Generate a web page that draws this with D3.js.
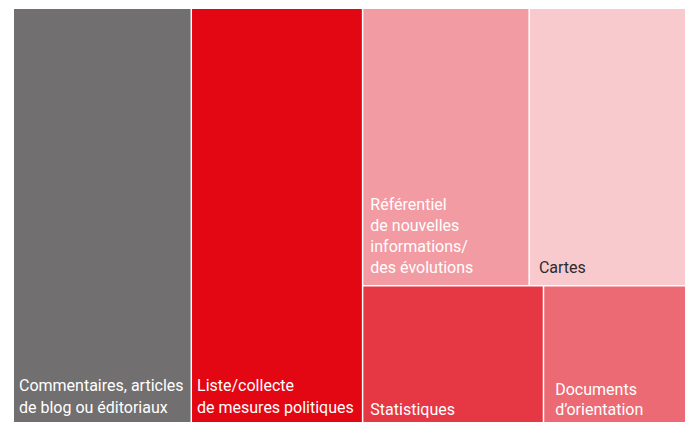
<!DOCTYPE html>
<html>
<head>
<meta charset="utf-8">
<script src="https://cdn.jsdelivr.net/npm/d3@7"></script>
<style>
  body { margin: 0; background: #fff; }
  svg { display: block; }
  text { font-family: Roboto, "Liberation Sans", sans-serif; font-size: 16px; }
</style>
</head>
<body>
<svg id="chart" width="690" height="423"></svg>
<script>
// shares (%)
const columns = ["Commentaires, articles de blog ou éditoriaux", "Liste/collecte de mesures politiques"];
const columnValues = [26.5, 25.5];
const topRow = ["Référentiel de nouvelles informations/ des évolutions", "Cartes"];
const topRowValues = [16.6, 15.6];
const bottomRow = ["Statistiques", "Documents d’orientation"];
const bottomRowValues = [8.9, 7.0];

// line breaks as in the original labels
const labelLines = {
  "Commentaires, articles de blog ou éditoriaux": ["Commentaires, articles", "de blog ou éditoriaux"],
  "Liste/collecte de mesures politiques": ["Liste/collecte", "de mesures politiques"],
  "Référentiel de nouvelles informations/ des évolutions": ["Référentiel", "de nouvelles", "informations/", "des évolutions"],
  "Cartes": ["Cartes"],
  "Statistiques": ["Statistiques"],
  "Documents d’orientation": ["Documents", "d’orientation"]
};

const colors = {
  "Commentaires, articles de blog ou éditoriaux": "#716f6f",
  "Liste/collecte de mesures politiques": "#e30613",
  "Référentiel de nouvelles informations/ des évolutions": "#f29ba3",
  "Cartes": "#f9cacd",
  "Statistiques": "#e63744",
  "Documents d’orientation": "#ec6a73"
};
const textColor = { "Cartes": "#2b2b2b" };
// label inset [dx, distance of last baseline above cell bottom, line height]
const labelPos = {
  "Commentaires, articles de blog ou éditoriaux": [5, 9, 22],
  "Liste/collecte de mesures politiques": [5, 9, 22],
  "Référentiel de nouvelles informations/ des évolutions": [7, 12, 21],
  "Cartes": [9, 12, 21],
  "Statistiques": [7, 7, 21],
  "Documents d’orientation": [11, 7, 20]
};

const toLeaves = (names, vals) => names.map((n, i) => ({ name: n, value: vals[i] }));
const data = {
  name: "root",
  children: [
    ...toLeaves(columns, columnValues),
    {
      name: "rest",
      children: [
        { name: "top", children: toLeaves(topRow, topRowValues) },
        { name: "bottom", children: toLeaves(bottomRow, bottomRowValues) }
      ]
    }
  ]
};

const svg = d3.select("#chart");
const margin = { top: 9, right: 5, bottom: 1, left: 14 },
  width = +svg.attr("width") - margin.left - margin.right,
  height = +svg.attr("height") - margin.top - margin.bottom;

const root = d3.hierarchy(data).sum(d => d.value || 0);
d3.treemap()
  .tile(d3.treemapSliceDice)
  .size([width, height])
  .paddingInner(1.5)
  .round(false)(root);

const g = svg.append("g")
  .attr("transform", "translate(" + margin.left + "," + margin.top + ")");

const cell = g.selectAll("g.cell")
  .data(root.leaves())
  .enter().append("g")
  .attr("class", "cell")
  .attr("transform", d => "translate(" + d.x0 + "," + d.y0 + ")");

cell.append("rect")
  .attr("width", d => d.x1 - d.x0)
  .attr("height", d => d.y1 - d.y0)
  .attr("fill", d => colors[d.data.name]);

cell.append("text")
  .attr("fill", d => textColor[d.data.name] || "#fff")
  .each(function(d) {
    const lines = labelLines[d.data.name];
    const [dx, db, lh] = labelPos[d.data.name];
    const h = d.y1 - d.y0;
    d3.select(this).selectAll("tspan")
      .data(lines)
      .enter().append("tspan")
      .attr("x", dx)
      .attr("y", (l, i) => h - db - (lines.length - 1 - i) * lh)
      .text(l => l);
  });
</script>
</body>
</html>
